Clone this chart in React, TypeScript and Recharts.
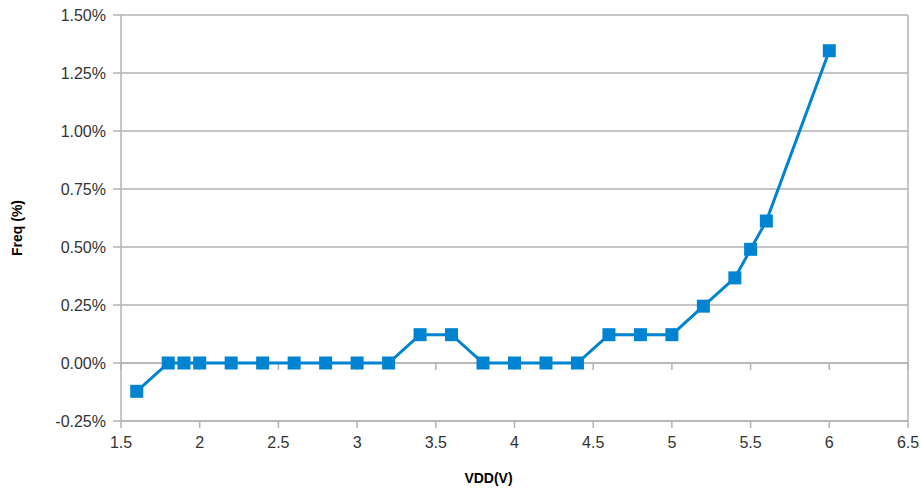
import React from "react";
import {
  LineChart,
  Line,
  XAxis,
  YAxis,
  CartesianGrid,
  ReferenceLine,
} from "recharts";

const vdd = [1.6, 1.8, 1.9, 2.0, 2.2, 2.4, 2.6, 2.8, 3.0, 3.2, 3.4, 3.6, 3.8, 4.0, 4.2, 4.4, 4.6, 4.8, 5.0, 5.2, 5.4, 5.5, 5.6, 6.0];
// frequency deviation, in percent
const freq = [-0.122, 0, 0, 0, 0, 0, 0, 0, 0, 0, 0.122, 0.122, 0, 0, 0, 0, 0.122, 0.122, 0.122, 0.245, 0.367, 0.49, 0.612, 1.346];

const xTicks = [1.5, 2, 2.5, 3, 3.5, 4, 4.5, 5, 5.5, 6, 6.5];
const yTicks = [-0.25, 0, 0.25, 0.5, 0.75, 1.0, 1.25, 1.5];

const data = vdd.map((v, i) => ({ vdd: v, freq: freq[i] }));

const GRID = "#b3b3b3";
const BLUE = "#0084d1";
const FONT = "'Liberation Sans', Arial, sans-serif";

const SquareDot = (props: any) => {
  const { cx, cy } = props;
  if (cx == null || cy == null) return null;
  const s = 13;
  return <rect x={cx - s / 2} y={cy - s / 2} width={s} height={s} fill={BLUE} />;
};

const XTitle = (props: any) => {
  const vb = props.viewBox || {};
  return (
    <text
      x={vb.x + vb.width / 2 - 26}
      y={vb.y + vb.height - 11}
      textAnchor="middle"
      dominantBaseline="central"
      fontSize={14}
      fontWeight="bold"
      fontFamily={FONT}
      fill="#000"
    >
      VDD(V)
    </text>
  );
};

const YTitle = (props: any) => {
  const vb = props.viewBox || {};
  const x = vb.x + 17;
  const y = vb.y + vb.height / 2 + 10;
  return (
    <text
      x={x}
      y={y}
      transform={`rotate(-90 ${x} ${y})`}
      textAnchor="middle"
      dominantBaseline="central"
      fontSize={14}
      fontWeight="bold"
      fontFamily={FONT}
      fill="#000"
    >
      Freq (%)
    </text>
  );
};

export default function App() {
  return (
    <div style={{ position: "absolute", left: 0, top: 0, width: 921, height: 489, background: "#fff", fontFamily: FONT }}>
      <LineChart
        width={921}
        height={489}
        data={data}
        margin={{ top: 15, right: 13, bottom: 0, left: 0 }}
      >
        <CartesianGrid vertical={false} stroke={GRID} strokeWidth={1.5} />
        <XAxis
          type="number"
          dataKey="vdd"
          domain={[1.5, 6.5]}
          ticks={xTicks}
          interval={0}
          height={68}
          stroke={GRID}
          strokeWidth={1.5}
          tickSize={7}
          tickMargin={9}
          tick={{ fontSize: 16, fill: "#333", fontFamily: FONT }}
          label={<XTitle />}
        />
        <YAxis
          type="number"
          domain={[-0.25, 1.5]}
          ticks={yTicks}
          interval={0}
          width={121}
          stroke={GRID}
          strokeWidth={1.5}
          tickSize={8}
          tickMargin={7}
          tickFormatter={(v: number) => `${v.toFixed(2)}%`}
          tick={{ fontSize: 16, fill: "#333", fontFamily: FONT }}
          label={<YTitle />}
        />
        <ReferenceLine x={6.5} stroke={GRID} strokeWidth={1.5} />
        <ReferenceLine y={0} stroke={GRID} strokeWidth={1.5} />
        {xTicks.map((t) => (
          <ReferenceLine
            key={t}
            segment={[{ x: t, y: 0 }, { x: t, y: -0.03 }]}
            stroke={GRID}
            strokeWidth={1.5}
          />
        ))}
        <Line
          type="linear"
          dataKey="freq"
          stroke={BLUE}
          strokeWidth={3}
          dot={<SquareDot />}
          activeDot={false}
          isAnimationActive={false}
        />
      </LineChart>
    </div>
  );
}
